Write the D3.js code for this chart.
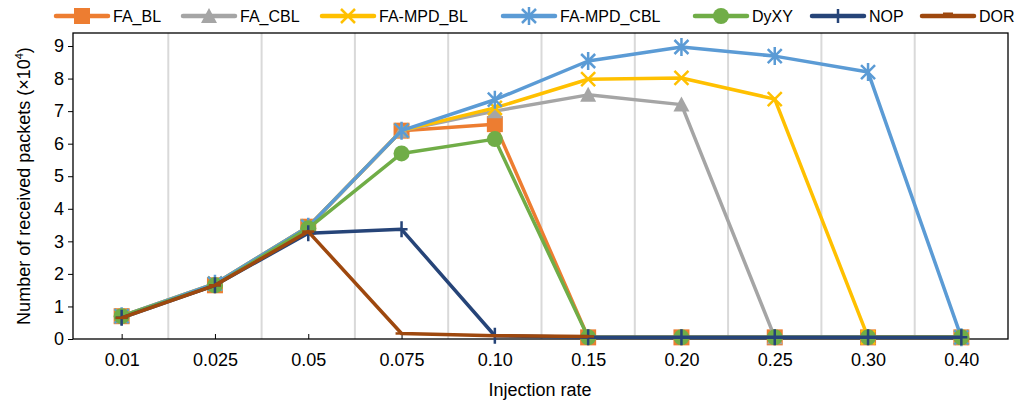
<!DOCTYPE html>
<html>
<head>
<meta charset="utf-8">
<script src="https://cdn.jsdelivr.net/npm/d3@7"></script>
<style>
body{margin:0;background:#fff;}
text{font-family:"Liberation Sans",Arial,sans-serif;fill:#000;}
</style>
</head>
<body>
<svg id="chart" width="1021" height="403"></svg>
<script>
// injection rates (categories)
var rates = ["0.01","0.025","0.05","0.075","0.10","0.15","0.20","0.25","0.30","0.40"];
var yTicks = [0,1,2,3,4,5,6,7,8,9];

// received packets (x10^4)
var faBL     = [0.7, 1.65, 3.45, 6.4, 6.6, 0.05, 0.05, 0.05, 0.05, 0.05];
var faCBL    = [0.7, 1.7, 3.45, 6.4, 7.0, 7.5, 7.2, 0.05, 0.05, 0.05];
var faMpdBL  = [0.7, 1.7, 3.45, 6.4, 7.1, 7.98, 8.02, 7.37, 0.05, 0.05];
var faMpdCBL = [0.7, 1.7, 3.45, 6.4, 7.35, 8.54, 8.97, 8.69, 8.2, 0.05];
var dyXY     = [0.7, 1.65, 3.4, 5.7, 6.14, 0.05, 0.05, 0.05, 0.05, 0.05];
var nop      = [0.65, 1.65, 3.25, 3.37, 0.1, 0.05, 0.05, 0.05, 0.05, 0.05];
var dor      = [0.65, 1.65, 3.3, 0.17, 0.1, 0.08, null, null, null, null];

var series = [
  {name:"FA_BL", values:faBL, color:"#ED7D31", marker:"square"},
  {name:"FA_CBL", values:faCBL, color:"#A5A5A5", marker:"triangle"},
  {name:"FA-MPD_BL", values:faMpdBL, color:"#FFC000", marker:"x"},
  {name:"FA-MPD_CBL", values:faMpdCBL, color:"#5B9BD5", marker:"star"},
  {name:"DyXY", values:dyXY, color:"#70AD47", marker:"circle"},
  {name:"NOP", values:nop, color:"#264478", marker:"plus"},
  {name:"DOR", values:dor, color:"#9E480E", marker:"dash"}
];

var svg = d3.select("#chart");
var plotL = 73, plotR = 1008, plotT = 33, plotB = 339;

var x = d3.scalePoint().domain(rates).range([plotL + 2, plotR]).padding(0.5);
var y = d3.scaleLinear().domain([0, 9.4]).range([plotB, plotT]);

// vertical gridlines between categories
var step = x.step();
svg.append("g").selectAll("line")
  .data(rates.slice(0, rates.length - 1))
  .enter().append("line")
  .attr("x1", function(d){ return x(d) + step/2; })
  .attr("x2", function(d){ return x(d) + step/2; })
  .attr("y1", plotT).attr("y2", plotB)
  .style("stroke", "#d9d9d9").style("stroke-width", 2);

// plot box
svg.append("rect")
  .attr("x", plotL).attr("y", plotT)
  .attr("width", plotR - plotL).attr("height", plotB - plotT)
  .style("fill", "none").style("stroke", "#000").style("stroke-width", 1.3);

// y axis
var yAxis = svg.append("g").attr("transform", "translate(" + plotL + ",0)")
  .call(d3.axisLeft(y).tickValues(yTicks).tickSize(5).tickPadding(4));
yAxis.select(".domain").remove();
yAxis.selectAll("text").style("font-size", "18px");

// x axis
var xAxis = svg.append("g").attr("transform", "translate(0," + plotB + ")")
  .call(d3.axisBottom(x).tickSize(-5).tickPadding(14));
xAxis.select(".domain").remove();
xAxis.selectAll("text").style("font-size", "18px");

svg.append("text")
  .attr("x", 540).attr("y", 396)
  .attr("text-anchor", "middle")
  .style("font-size", "18px")
  .text("Injection rate");

var ylab = svg.append("text")
  .attr("transform", "translate(30," + (plotT + plotB)/2 + ") rotate(-90)")
  .attr("text-anchor", "middle")
  .style("font-size", "18px");
ylab.append("tspan").text("Number of received packets (×10");
ylab.append("tspan").attr("dy", -7).style("font-size", "11px").text("4");
ylab.append("tspan").attr("dy", 7).text(")");

function drawMarker(g, type, color) {
  if (type === "square") {
    g.append("rect").attr("x", -8).attr("y", -8).attr("width", 16).attr("height", 16).style("fill", color);
  } else if (type === "triangle") {
    g.append("path").attr("d", "M0,-8L8,7L-8,7Z").style("fill", color);
  } else if (type === "circle") {
    g.append("circle").attr("r", 8).style("fill", color);
  } else if (type === "x") {
    g.append("path").attr("d", "M-7,-7L7,7M-7,7L7,-7").style("stroke", color).style("stroke-width", 2.5);
  } else if (type === "star") {
    g.append("path").attr("d", "M-7,-7L7,7M-7,7L7,-7M0,-9L0,9").style("stroke", color).style("stroke-width", 2.5);
  } else if (type === "plus") {
    g.append("path").attr("d", "M0,-8L0,8M-6,0L6,0").style("stroke", color).style("stroke-width", 2.5);
  } else if (type === "dash") {
    g.append("path").attr("d", "M-6,0L6,0").style("stroke", color).style("stroke-width", 2.5);
  }
}

var line = d3.line()
  .defined(function(d){ return d != null; })
  .x(function(d, i){ return x(rates[i]); })
  .y(function(d){ return y(d); });

series.forEach(function(s) {
  var g = svg.append("g");
  g.append("path")
    .datum(s.values)
    .attr("d", line)
    .style("fill", "none")
    .style("stroke", s.color)
    .style("stroke-width", 3.5)
    .style("stroke-linejoin", "round");
  s.values.forEach(function(v, i) {
    if (v == null) return;
    drawMarker(g.append("g").attr("transform", "translate(" + x(rates[i]) + "," + y(v) + ")"), s.marker, s.color);
  });
});

// legend
var legX = [56, 183, 322, 503, 695, 812, 922];
var leg = svg.append("g");
series.forEach(function(s, i) {
  var g = leg.append("g").attr("transform", "translate(" + legX[i] + ",16)");
  g.append("line").attr("x1", 0).attr("x2", 52)
    .style("stroke", s.color).style("stroke-width", 4.5).style("stroke-linecap", "round");
  var m = g.append("g").attr("transform", "translate(26,0)");
  if (s.marker === "dash") {
    m.append("rect").attr("x", -5).attr("y", -3.5).attr("width", 10).attr("height", 3).style("fill", s.color);
  } else if (s.marker === "plus") {
    m.append("path").attr("d", "M0,-7L0,7").style("stroke", s.color).style("stroke-width", 2.5);
  } else {
    drawMarker(m, s.marker, s.color);
  }
  g.append("text").attr("x", 57).attr("y", 6).style("font-size", "16px").text(s.name);
});
</script>
</body>
</html>
